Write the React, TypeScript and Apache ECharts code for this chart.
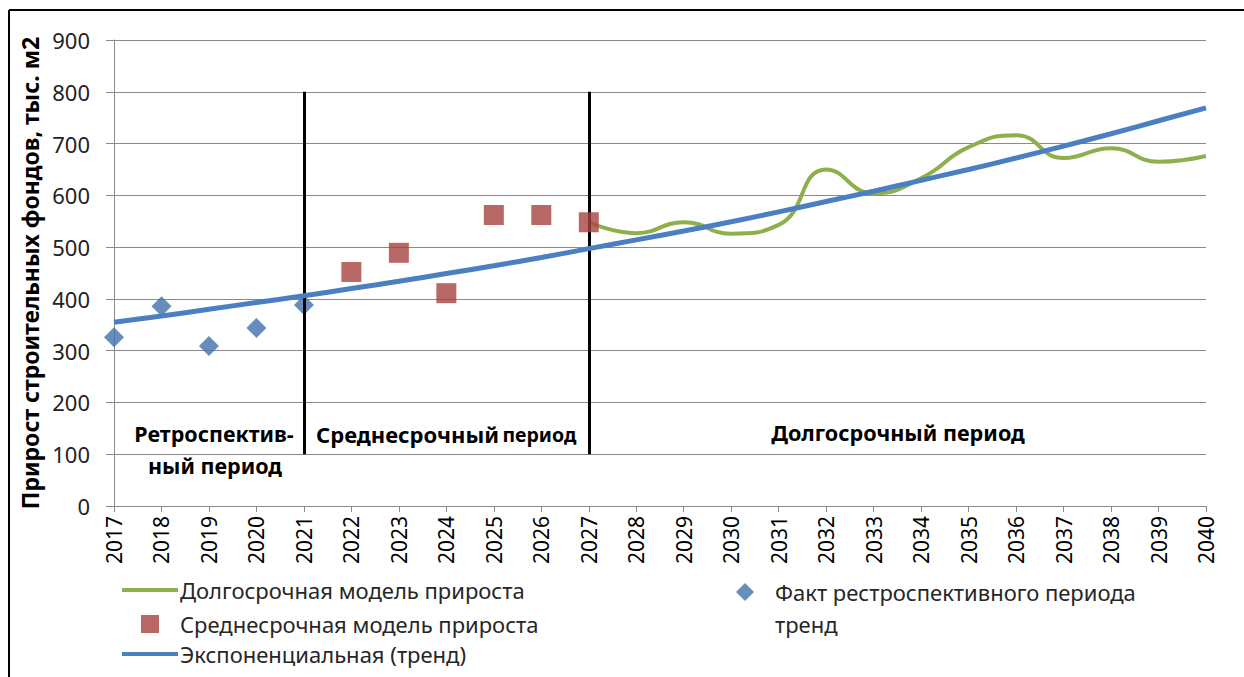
import React, { useEffect, useRef } from "react";
import * as echarts from "echarts";

const years = [
  "2017", "2018", "2019", "2020", "2021", "2022", "2023", "2024",
  "2025", "2026", "2027", "2028", "2029", "2030", "2031", "2032",
  "2033", "2034", "2035", "2036", "2037", "2038", "2039", "2040",
];

const factYears = ["2017", "2018", "2019", "2020", "2021"];
const factValues = [326, 386, 309, 344, 388];

const midYears = ["2022", "2023", "2024", "2025", "2026", "2027"];
const midValues = [452, 489, 411, 562, 562, 548];

const longYears = [
  "2027", "2028", "2029", "2030", "2031", "2032", "2033",
  "2034", "2035", "2036", "2037", "2038", "2039", "2040",
];
const longValues = [548, 527, 548, 526, 543, 650, 604, 633, 693, 716, 672, 691, 665, 676];

const trendValues = [
  355, 367, 380, 393, 406, 420, 434, 449, 464, 480, 497, 514,
  531, 549, 568, 588, 608, 629, 650, 672, 695, 719, 744, 769,
];

const periodBounds = [
  { year: "2021", from: 800, to: 100 },
  { year: "2027", from: 800, to: 100 },
];

const nLong = "Долгосрочная модель прироста";
const nMid = "Среднесрочная модель прироста";
const nTrend = "Экспоненциальная (тренд)";
const nFact = "Факт рестроспективного периода тренд";
const nFactLine1 = "Факт рестроспективного периода";
const nFactLine2 = "тренд";
const yName = "Прирост строительных фондов, тыс. м2";

const textFont = "'Noto Sans', 'DejaVu Sans', sans-serif";
const numFont = "'Noto Sans', sans-serif";

const GREEN = "#8DB04D";
const RED = "#A8433F";
const BLUE_LINE = "#4A7FC1";
const BLUE_PT = "#4270AD";
const GRID = "#8A8A8A";
const LEGEND_TXT = "#262626";

export default function App() {
  const ref = useRef<HTMLDivElement>(null);

  useEffect(() => {
    document.body.style.margin = "0";
    const chart = echarts.init(ref.current!, null, { renderer: "svg" });

    const legendText = {
      fontFamily: textFont,
      fontSize: 22,
      color: LEGEND_TXT,
      lineHeight: 24,
    };

    const boldText = (text: string, x: number, y: number, size: number) => ({
      type: "text",
      x,
      y,
      silent: true,
      style: {
        text,
        fontFamily: textFont,
        fontSize: size,
        fontWeight: "bold",
        fill: "#000",
        align: "center",
        verticalAlign: "middle",
      },
    });

    const option: any = {
      animation: false,
      backgroundColor: "#ffffff",
      grid: { left: 114, right: 38, top: 40, bottom: 171, containLabel: false },
      xAxis: {
        type: "category",
        data: years,
        boundaryGap: false,
        axisLine: { lineStyle: { color: GRID, width: 1 } },
        axisTick: { show: true, length: 6, lineStyle: { color: GRID } },
        axisLabel: {
          rotate: 90,
          margin: 10,
          fontFamily: numFont,
          fontSize: 21,
          color: "#000",
          interval: 0,
        },
        splitLine: { show: false },
      },
      yAxis: {
        type: "value",
        min: 0,
        max: 900,
        interval: 100,
        axisLine: { show: true, lineStyle: { color: GRID, width: 1 } },
        axisTick: { show: true, length: 8, lineStyle: { color: GRID } },
        axisLabel: {
          margin: 24,
          fontFamily: numFont,
          fontSize: 22,
          color: "#222",
        },
        splitLine: { show: true, lineStyle: { color: GRID, width: 1 } },
        name: yName,
        nameLocation: "middle",
        nameRotate: 90,
        nameGap: 70,
        nameTextStyle: {
          fontFamily: textFont,
          fontSize: 23,
          fontWeight: "bold",
          color: "#000",
        },
      },
      legend: [
        {
          data: [{ name: nLong, icon: "rect" }],
          left: 122,
          top: 578,
          padding: 0,
          itemWidth: 56,
          itemHeight: 4,
          selectedMode: false,
          textStyle: { ...legendText, padding: [0, 0, 0, -3] },
        },
        {
          data: [{ name: nMid, icon: "rect" }],
          left: 141,
          top: 612,
          padding: 0,
          itemWidth: 18,
          itemHeight: 18,
          selectedMode: false,
          textStyle: { ...legendText, padding: [0, 0, 0, 16] },
        },
        {
          data: [{ name: nTrend, icon: "rect" }],
          left: 122,
          top: 642,
          padding: 0,
          itemWidth: 56,
          itemHeight: 4,
          selectedMode: false,
          textStyle: { ...legendText, padding: [0, 0, 0, -3] },
        },
        {
          data: [{ name: nFact, icon: "diamond" }],
          left: 736,
          top: 580,
          padding: 0,
          itemWidth: 18,
          itemHeight: 18,
          selectedMode: false,
          formatter: () => nFactLine1,
          textStyle: { ...legendText, padding: [0, 0, 0, 16] },
        },
      ],
      graphic: [
        {
          type: "line",
          silent: true,
          shape: { x1: 9, y1: 10, x2: 1244, y2: 10 },
          style: { stroke: "#000", lineWidth: 2 },
        },
        {
          type: "line",
          silent: true,
          shape: { x1: 9, y1: 10, x2: 9, y2: 677 },
          style: { stroke: "#000", lineWidth: 2 },
        },
        {
          type: "text",
          x: 775,
          y: 624,
          silent: true,
          style: {
            text: nFactLine2,
            fontFamily: textFont,
            fontSize: 22,
            fill: LEGEND_TXT,
            align: "left",
            verticalAlign: "middle",
          },
        },
        boldText("Ретроспектив-", 214, 433, 21.5),
        boldText("ный период", 215, 465, 21.5),
        {
          type: "text",
          x: 316,
          y: 434,
          silent: true,
          style: {
            text: "{a|Среднесрочный} {b|период}",
            fill: "#000",
            align: "left",
            verticalAlign: "middle",
            rich: {
              a: { fontFamily: textFont, fontSize: 22, fontWeight: "bold", fill: "#000" },
              b: { fontFamily: textFont, fontSize: 19.5, fontWeight: "bold", fill: "#000" },
            },
          },
        },
        boldText("Долгосрочный период", 898, 432, 21.6),
      ],
      series: [
        {
          name: nFact,
          type: "scatter",
          data: factYears.map((y, i) => [y, factValues[i]]),
          symbol: "diamond",
          symbolSize: 20,
          itemStyle: { color: BLUE_PT },
          color: BLUE_PT,
          z: 3,
          markLine: {
            silent: true,
            symbol: ["none", "none"],
            label: { show: false },
            lineStyle: { color: "#000", width: 3, type: "solid" },
            data: periodBounds.map((b) => [
              { coord: [b.year, b.from] },
              { coord: [b.year, b.to] },
            ]),
          },
        },
        {
          name: nLong,
          type: "line",
          data: longYears.map((y, i) => [y, longValues[i]]),
          smooth: 0.5,
          showSymbol: false,
          symbol: "none",
          color: GREEN,
          lineStyle: { color: GREEN, width: 4 },
          itemStyle: { color: GREEN },
          z: 4,
        },
        {
          name: nMid,
          type: "scatter",
          data: midYears.map((y, i) => [y, midValues[i]]),
          symbol: "rect",
          symbolSize: 20,
          color: RED,
          itemStyle: { color: RED },
          z: 6,
        },
        {
          name: nTrend,
          type: "line",
          data: trendValues,
          smooth: true,
          showSymbol: false,
          symbol: "none",
          color: BLUE_LINE,
          lineStyle: { color: BLUE_LINE, width: 5 },
          itemStyle: { color: BLUE_LINE },
          z: 5,
        },
      ],
    };

    chart.setOption(option);
    return () => chart.dispose();
  }, []);

  return <div ref={ref} style={{ width: 1244, height: 677 }} />;
}
